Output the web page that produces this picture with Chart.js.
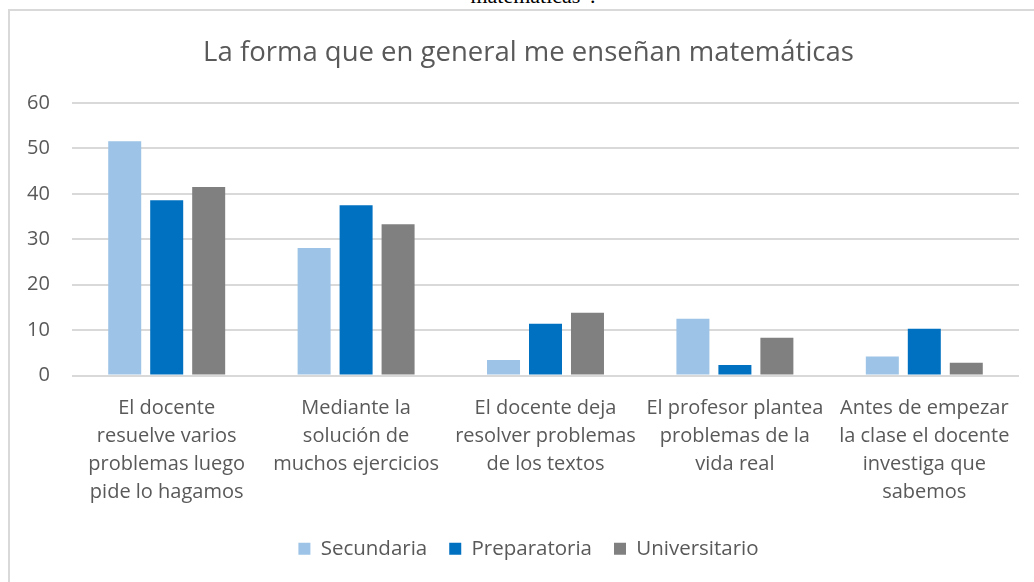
<!DOCTYPE html>
<html>
<head>
<meta charset="utf-8">
<script src="https://cdn.jsdelivr.net/npm/chart.js@4.4.0/dist/chart.umd.min.js"></script>
<style>
  html, body { margin: 0; padding: 0; background: #fff; }
  body { width: 1034px; height: 582px; position: relative; overflow: hidden; }
  #caption {
    position: absolute; left: 0; width: 1066px; top: -17px;
    text-align: center; font-family: "Liberation Serif", serif; font-size: 22px; color: #000;
  }
  #frame {
    position: absolute; left: 8px; top: 9px; width: 1040px; height: 600px;
    border: 2px solid #d9d9d9; box-sizing: border-box;
  }
  #wrap { position: absolute; left: 0; top: 0; width: 1034px; height: 582px; }
</style>
</head>
<body>
<div id="caption">matemáticas”.</div>
<div id="frame"></div>
<div id="wrap"><canvas id="barChart"></canvas></div>
<script>
const categories = [
  ["El docente", "resuelve varios", "problemas luego", "pide lo hagamos"],
  ["Mediante la", "solución de", "muchos ejercicios"],
  ["El docente deja", "resolver problemas", "de los textos"],
  ["El profesor plantea", "problemas de la", "vida real"],
  ["Antes de empezar", "la clase el docente", "investiga que", "sabemos"]
];
const secundaria = [51.6, 28.1, 3.4, 12.5, 4.2];
const preparatoria = [38.6, 37.5, 11.4, 2.3, 10.3];
const universitario = [41.5, 33.3, 13.8, 8.3, 2.8];
const yTicks = [0, 10, 20, 30, 40, 50, 60];

const textColor = '#595959';
const fontFamily = '"Open Sans", "Noto Sans", sans-serif';

const canvas = document.getElementById('barChart');

const data = {
  labels: categories,
  datasets: [
    { label: 'Secundaria', data: secundaria, backgroundColor: '#9DC3E6' },
    { label: 'Preparatoria', data: preparatoria, backgroundColor: '#0070C0' },
    { label: 'Universitario', data: universitario, backgroundColor: '#808080' }
  ]
};

const config = {
  type: 'bar',
  data: data,
  options: {
    responsive: true,
    maintainAspectRatio: false,
    animation: false,
    categoryPercentage: 0.665,
    barPercentage: 0.786,
    layout: { padding: { top: 10, left: 38, right: 15, bottom: 13 } },
    scales: {
      x: {
        grid: { display: false },
        border: { display: false },
        ticks: {
          color: textColor,
          font: { family: fontFamily, size: 20, lineHeight: '28px' },
          padding: 11,
          maxRotation: 0,
          autoSkip: false
        },
        afterFit: function (s) { s.height = 141; }
      },
      y: {
        min: 0,
        max: 60,
        afterBuildTicks: function (s) { s.ticks = yTicks.map(v => ({ value: v })); },
        grid: { color: '#d9d9d9', lineWidth: 2, drawTicks: false },
        border: { display: false },
        ticks: {
          color: textColor,
          font: { family: fontFamily, size: 20 },
          // mirrored so the labels are not clipped to the narrow axis box
          mirror: true,
          crossAlign: 'far',
          padding: -45
        },
        afterFit: function (s) { s.width = 34; }
      }
    },
    plugins: {
      title: {
        display: true,
        text: 'La forma que en general me enseñan matemáticas',
        color: textColor,
        font: { family: fontFamily, size: 27.5, weight: 'normal', lineHeight: 1.2 },
        padding: { top: 27, bottom: 33 }
      },
      legend: {
        position: 'bottom',
        labels: {
          color: textColor,
          font: { family: fontFamily, size: 20.5 },
          boxWidth: 12,
          boxHeight: 12,
          padding: 22
        }
      },
      tooltip: { enabled: false }
    }
  }
};

const barChartObject = new Chart(canvas, config);
</script>
</body>
</html>
